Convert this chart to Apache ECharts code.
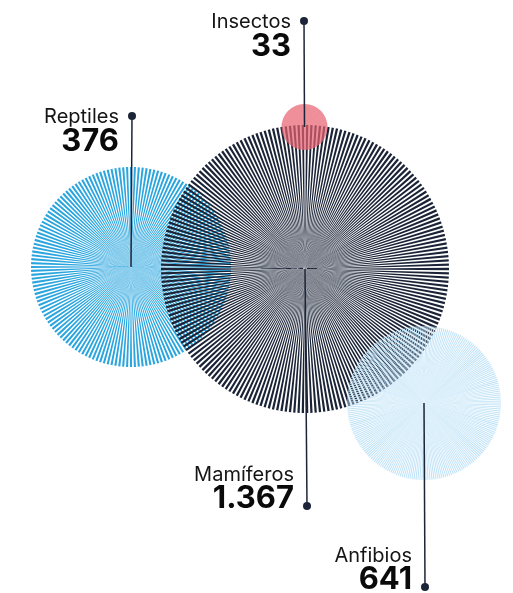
<!DOCTYPE html>
<html>
<head>
<meta charset="utf-8">
<script src="https://cdn.jsdelivr.net/npm/echarts@6/dist/echarts.min.js"></script>
<style>
  html, body { margin: 0; padding: 0; background: #fff; }
  #chart { width: 513px; height: 593px; }
</style>
</head>
<body>
<div id="chart"></div>
<script>
// data
var groups = ["Reptiles", "Mamíferos", "Anfibios", "Insectos"];
var species = [376, 1367, 641, 33];
var speciesLabels = ["376", "1.367", "641", "33"];

// layout (chart units, 513 x 593 frame)
var centerX = [131, 305, 424, 304.5];
var centerY = [267, 269, 403, 127];
var radius = [100, 144, 77, 23];
var dotX = [132, 307, 425, 304];
var dotY = [116, 506, 587, 21];
var labelSide = ["top", "bottom", "bottom", "top"];

var spokes = [160, 210, 240, 120];
var colors = ["#2aa5de", "#1b2437", "#bfe2f7", "#e86c79"];

var chart = echarts.init(document.getElementById("chart"));

// alternating thin wedges from centre to rim
function wedgePath(cx, cy, r, n) {
  var d = "";
  var step = Math.PI * 2 / n;
  for (var i = 0; i < n; i++) {
    var a0 = i * step - step * 0.27;
    var a1 = i * step + step * 0.27;
    d += "M" + cx.toFixed(2) + " " + cy.toFixed(2) +
      "L" + (cx + r * Math.cos(a0)).toFixed(2) + " " + (cy + r * Math.sin(a0)).toFixed(2) +
      "L" + (cx + r * Math.cos(a1)).toFixed(2) + " " + (cy + r * Math.sin(a1)).toFixed(2) + "Z";
  }
  return d;
}

var bubbleData = groups.map(function (g, i) {
  return { name: g, value: [centerX[i], centerY[i], radius[i], species[i], i] };
});

var labelData = groups.map(function (g, i) {
  return { name: g, value: [centerX[i], centerY[i], dotX[i], dotY[i], i] };
});

chart.setOption({
  animation: false,
  grid: { left: 0, right: 0, top: 0, bottom: 0 },
  xAxis: { type: "value", min: 0, max: 513, show: false },
  yAxis: { type: "value", min: 0, max: 593, inverse: true, show: false },
  series: [
    {
      type: "custom",
      data: bubbleData,
      renderItem: function (params, api) {
        var i = api.value(4);
        var c = api.coord([api.value(0), api.value(1)]);
        var r = api.size([api.value(2), 0])[0];
        var children = [];
        if (i === 3) {
          children.push({
            type: "circle",
            shape: { cx: c[0], cy: c[1], r: r },
            style: { fill: "rgba(232,96,110,0.65)" }
          });
        }
        children.push({
          type: "path",
          shape: { pathData: wedgePath(c[0], c[1], r, spokes[i]) },
          style: {
            fill: colors[i],
            stroke: null,
            opacity: i === 3 ? 0.35 : 1
          }
        });
        return { type: "group", children: children };
      }
    },
    {
      type: "custom",
      data: labelData,
      renderItem: function (params, api) {
        var i = api.value(4);
        var c = api.coord([api.value(0), api.value(1)]);
        var d = api.coord([api.value(2), api.value(3)]);
        var tx = d[0] - 13;
        var nameY, valY;
        if (labelSide[i] === "top") {
          nameY = d[1] + 11;
          valY = nameY + 30;
        } else {
          valY = d[1] + 8;
          nameY = valY - 29;
        }
        return {
          type: "group",
          children: [
            {
              type: "line",
              shape: { x1: c[0], y1: c[1], x2: d[0], y2: d[1] },
              style: { stroke: "#1c2538", lineWidth: 1.5 }
            },
            {
              type: "circle",
              shape: { cx: d[0], cy: d[1], r: 4 },
              style: { fill: "#1c2538" }
            },
            {
              type: "text",
              style: {
                text: groups[i], x: tx, y: nameY,
                align: "right", verticalAlign: "bottom",
                font: "400 20px Inter", fill: "#151515"
              }
            },
            {
              type: "text",
              style: {
                text: speciesLabels[i], x: tx, y: valY,
                align: "right", verticalAlign: "bottom",
                font: "700 31px Inter", fill: "#0a0a0a"
              }
            }
          ]
        };
      }
    }
  ]
});
</script>
</body>
</html>
